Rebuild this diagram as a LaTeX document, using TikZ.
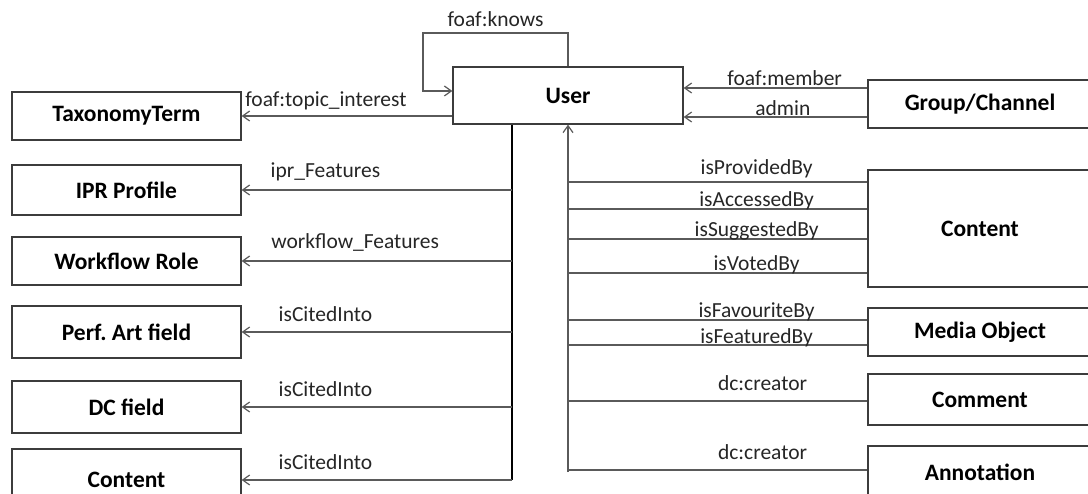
\documentclass[tikz,border=0pt]{standalone}
\usepackage{fontspec}
\setmainfont{Carlito}
\usepackage{xcolor}
\usepackage{tikz}
\usetikzlibrary{calc,arrows.meta}
\definecolor{ink}{HTML}{000000}
\definecolor{edge}{HTML}{5A5A5A}
\definecolor{frame}{HTML}{3C3C3C}
\definecolor{word}{HTML}{262626}
\tikzset{
  box/.style={draw=frame, line width=1.3pt, text=ink, inner sep=0pt, minimum width=229pt,
    font=\bfseries\fontsize{23.5}{27}\selectfont},
  rbox/.style={box, minimum width=224pt},
  link/.style={draw=edge, line width=1.5pt},
  arr/.style={link, -{Straight Barb[length=7pt,width=10pt,line width=1.2pt]}},
  spine/.style={draw=ink, line width=1.8pt},
  lab/.style={text=word, inner sep=0pt, anchor=base, yshift=2pt, font=\fontsize{21.5}{25}\selectfont},
  labh/.style={lab, yshift=8pt},
}
\begin{document}
\begin{tikzpicture}[x=1pt,y=-1pt]
  \useasboundingbox (0,0) rectangle (1088,494);
  % centre
  \node[box, minimum width=230pt, minimum height=57pt] (user) at (568,95.5) {User};
  % left column
  \node[box, minimum height=48pt] (tax)  at (126.5,116) {TaxonomyTerm};
  \node[box, minimum height=50pt] (ipr)  at (126.5,190) {IPR Profile};
  \node[box, minimum height=48pt] (wf)   at (126.5,261) {Workflow Role};
  \node[box, minimum height=52pt] (perf) at (126.5,332) {Perf.\ Art field};
  \node[box, minimum height=52pt] (dcf)  at (126.5,407) {DC field};
  \node[box, minimum height=62pt] (cntL) at (126.5,480) {Content};
  % right column
  \node[rbox, minimum height=48pt]  (grp)   at (980,104)   {Group/Channel};
  \node[rbox, minimum height=117pt] (cntR)  at (980,228.5) {Content};
  \node[rbox, minimum height=48pt]  (media) at (980,332)   {Media Object};
  \node[rbox, minimum height=51pt]  (comm)  at (980,399.5) {Comment};
  \node[rbox, minimum height=52pt]  (anno)  at (980,472)   {Annotation};
  \coordinate (spL) at (512,0);
  \coordinate (spR) at (568,0);
  \coordinate (kn) at (423,33);
  % self loop
  \draw[arr] (user.north) |- node[lab, pos=0.75, yshift=4pt] {foaf:knows} (kn) |- ([yshift=4.5pt]user.west);
  \draw[arr] (user.west |- tax.east) -- node[labh, pos=0.6, yshift=-1pt] {foaf:topic\_interest} (tax.east);
  % left spine
  \draw[spine] (spL |- user.south) -- (spL |- cntL.east);
  \draw[arr] (spL |- ipr.east) -- node[labh, pos=0.69, yshift=2pt] {ipr\_Features} (ipr.east);
  \draw[arr] (spL |- wf.east) -- node[labh, pos=0.58, yshift=2pt] {workflow\_Features} (wf.east);
  \draw[arr] (spL |- perf.east) -- node[labh, pos=0.69] {isCitedInto} (perf.east);
  \draw[arr] (spL |- dcf.east) -- node[labh, pos=0.69] {isCitedInto} (dcf.east);
  \draw[arr] (spL |- cntL.east) -- node[labh, pos=0.69] {isCitedInto} (cntL.east);
  % group
  \draw[arr] ([yshift=16pt]grp.west) -- node[lab, pos=0.45] {foaf:member} (user.east |- 0,88);
  \draw[arr] ([yshift=-13pt]grp.west) -- node[lab, pos=0.46, yshift=-1pt] {admin} (user.east |- 0,117);
  % right spine
  \draw[arr] (spR |- anno.west) -- (user.south);
  \draw[link] ([yshift=46.5pt]cntR.west) -- node[lab, pos=0.37, yshift=5pt] {isProvidedBy} (spR |- 0,182);
  \draw[link] ([yshift=19.5pt]cntR.west) -- node[lab, pos=0.37] {isAccessedBy} (spR |- 0,209);
  \draw[link] ([yshift=-10.5pt]cntR.west) -- node[lab, pos=0.37] {isSuggestedBy} (spR |- 0,239);
  \draw[link] ([yshift=-44.5pt]cntR.west) -- node[lab, pos=0.37] {isVotedBy} (spR |- 0,273);
  \draw[link] ([yshift=12pt]media.west) -- node[lab, pos=0.37] {isFavouriteBy} (spR |- 0,320);
  \draw[link] ([yshift=-13pt]media.west) -- node[lab, pos=0.37, yshift=-1pt] {isFeaturedBy} (spR |- 0,345);
  \draw[link] ([yshift=-1.5pt]comm.west) -- node[labh, pos=0.35] {dc:creator} (spR |- 0,401);
  \draw[link] ([yshift=2pt]anno.west) -- node[labh, pos=0.35] {dc:creator} (spR |- 0,470);
\end{tikzpicture}
\end{document}
